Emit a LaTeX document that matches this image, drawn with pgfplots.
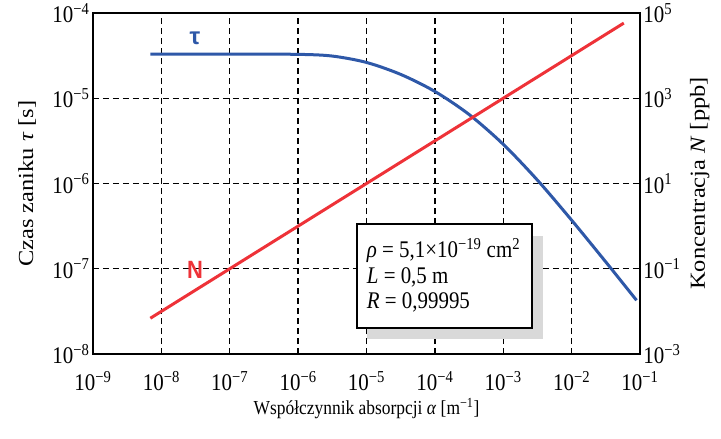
\documentclass[border=0pt]{standalone}
\usepackage{graphicx}
\usepackage{fontspec}
\setmainfont{Liberation Serif}
\newfontfamily\lsans{Liberation Sans}
\usepackage{pgfplots}
\pgfplotsset{compat=1.18}
\usetikzlibrary{calc}
\definecolor{taublue}{RGB}{46,88,168}
\definecolor{nred}{RGB}{238,50,56}
\definecolor{shadowgray}{RGB}{217,217,217}
\newcommand{\vs}[1]{\scalebox{1}[1.14]{#1}}
\newcommand{\hs}[1]{\scalebox{1.14}[1]{#1}}
\newcommand{\tn}[1]{\vs{10\textsuperscript{−#1}}}
\newcommand{\tp}[1]{\vs{10\textsuperscript{#1}}}
\begin{document}
\begin{tikzpicture}
\pgfplotsset{
  every axis/.append style={
    scale only axis, width=547bp, height=341bp,
    xmode=log, ymode=log, xmin=1e-9, xmax=1e-1,
    xminorticks=false, yminorticks=false,
    axis line style={line width=2.5bp, black},
    tick style={black, line width=1.2bp},
    major tick length=5bp,
    tick align=inside,
    tick label style={font=\fontsize{21}{25}\selectfont, inner sep=1bp},
  }
}
\begin{axis}[
  ymin=1e-8, ymax=1e-4,
  xtick={1e-9,1e-8,1e-7,1e-6,1e-5,1e-4,1e-3,1e-2,1e-1},
  xticklabels={\tn{9},\tn{8},\tn{7},\tn{6},\tn{5},\tn{4},\tn{3},\tn{2},\tn{1}},
  ytick={1e-8,1e-7,1e-6,1e-5,1e-4},
  yticklabels={\tn{8},\tn{7},\tn{6},\tn{5},\tn{4}},
  xticklabel style={yshift=-16bp},
  yticklabel style={xshift=-2.3bp},
  xtick pos=bottom, ytick pos=left,
  grid=major,
  major grid style={black, line width=1.3bp, dash pattern=on 6bp off 4bp},
  xlabel={\vs{Współczynnik absorpcji \textit{α} [m\textsuperscript{−1}]}},
  xlabel style={font=\fontsize{17.5}{21}\selectfont},
  xlabel shift=3bp,
  ylabel={\hs{Czas zaniku \textit{τ} [s]}},
  ylabel style={font=\fontsize{21.5}{25}\selectfont},
  ylabel shift=12bp,
]
\coordinate (SW) at (rel axis cs:0,0);
\coordinate (NE) at (rel axis cs:1,1);
\fill[shadowgray] (rel axis cs:0.5015,0.044) rectangle (rel axis cs:0.823,0.347);
\draw[fill=white, line width=2bp] (rel axis cs:0.483,0.0771) rectangle (rel axis cs:0.802,0.380);
\node[anchor=base west, font=\fontsize{21}{25}\selectfont, inner sep=0pt] at (rel axis cs:0.5004,0.2824) {\vs{\textit{ρ} = 5,1×10\textsuperscript{−19} cm\textsuperscript{2}}};
\node[anchor=base west, font=\fontsize{21}{25}\selectfont, inner sep=0pt] at (rel axis cs:0.5004,0.2082) {\vs{\textit{L} = 0,5 m}};
\node[anchor=base west, font=\fontsize{21}{25}\selectfont, inner sep=0pt] at (rel axis cs:0.5004,0.132) {\vs{\textit{R} = 0,99995}};
\node[text=taublue, font=\lsans\bfseries\fontsize{24}{28}\selectfont] at (rel axis cs:0.1865,0.926) {τ};
\node[text=nred, font=\lsans\bfseries\fontsize{22}{26}\selectfont] at (rel axis cs:0.1865,0.246) {\vs{N}};
\addplot[taublue, line width=3bp, smooth] coordinates {
  (6.9e-9,3.30e-5) (1e-7,3.30e-5) (1e-6,3.273e-5) (3.16e-6,3.126e-5)
  (1e-5,2.630e-5) (3.16e-5,1.905e-5) (1e-4,1.202e-5) (3.16e-4,6.457e-6) (1e-3,2.884e-6)
  (3.16e-3,1.096e-6) (1e-2,3.715e-7) (3.16e-2,1.202e-7) (8.9e-2,4.266e-8)
};
\end{axis}
\begin{axis}[
  ymin=1e-3, ymax=1e5,
  axis y line*=right, axis x line=none,
  ytick={1e-3,1e-1,1e1,1e3,1e5},
  yticklabels={\tn{3},\tn{1},\tp{1},\tp{3},\tp{5}},
  yticklabel style={xshift=2.3bp},
  ylabel={\hs{Koncentracja \textit{N} [ppb]}},
  ylabel style={font=\fontsize{21.5}{25}\selectfont},
  ylabel shift=5bp,
]
\addplot[nred, line width=3bp] coordinates {(6.9e-9,6.9e-3) (5.8e-2,5.8e4)};
\end{axis}
\pgfresetboundingbox
\path[use as bounding box] ($(SW)+(-93bp,-85bp)$) rectangle ($(NE)+(81bp,13bp)$);
\end{tikzpicture}
\end{document}
